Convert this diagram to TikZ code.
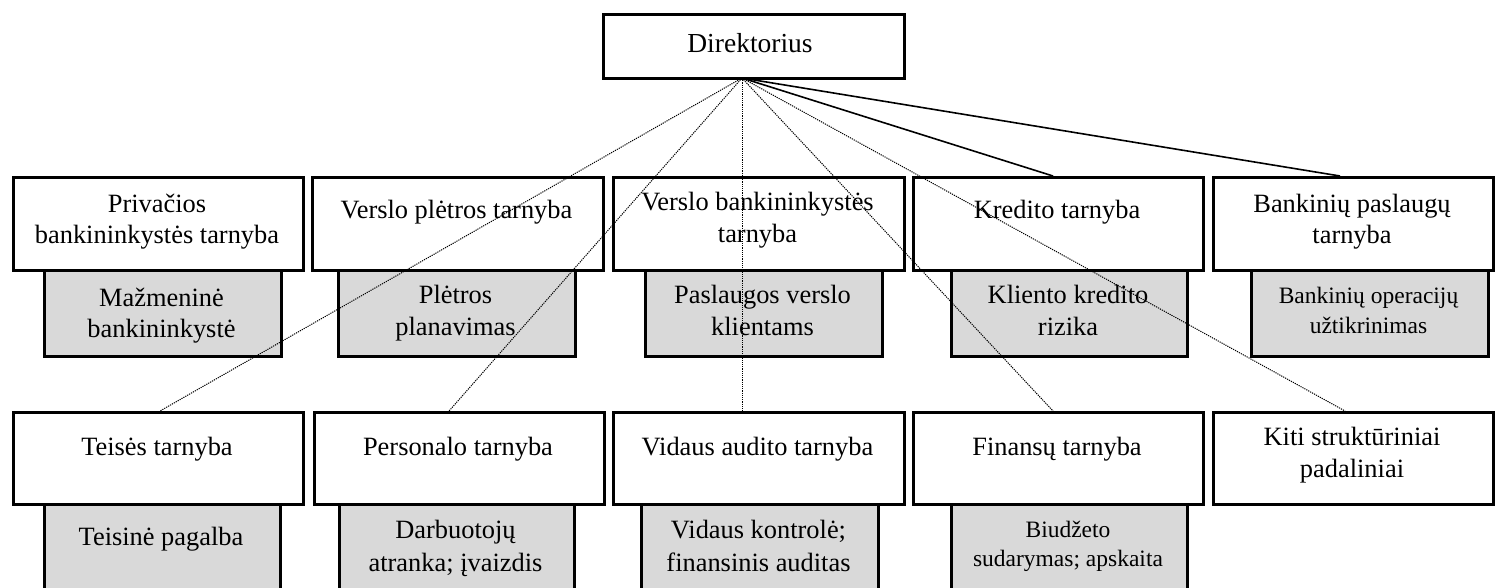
\documentclass[tikz,border=0pt]{standalone}
\usepackage{fontspec}
\setmainfont{Liberation Serif}
\begin{document}
\begin{tikzpicture}[x=1pt,y=-1pt,
  wbox/.style={draw=black,line width=2.5pt,fill=white,inner sep=0pt,anchor=north west},
  gbox/.style={draw=black,line width=2.5pt,fill=graybg,inner sep=0pt,anchor=north west},
  txt/.style={anchor=base,inner sep=0pt,font=\fontsize{26.4}{31}\selectfont},
  stxt/.style={anchor=base,inner sep=0pt,font=\fontsize{23.5}{28}\selectfont},
  dotline/.style={line width=1pt,dash pattern=on 1.2pt off 1pt},
  solidline/.style={line width=1.6pt}]
\definecolor{graybg}{HTML}{D9D9D9}
\clip (0,0) rectangle (1495,587);
\fill[white] (0,0) rectangle (1495,587);
% Director
\node[wbox,minimum width=301pt,minimum height=64pt] (dir) at (602,13) {};
\node[txt,font=\fontsize{27.5}{32}\selectfont] at (750,52) {Direktorius};
% top row
\node[wbox,minimum width=290pt,minimum height=93pt] (a1) at (12,176) {};
\node[wbox,minimum width=291pt,minimum height=93pt] (a2) at (311,176) {};
\node[wbox,minimum width=291pt,minimum height=93pt] (a3) at (612,176) {};
\node[wbox,minimum width=290pt,minimum height=93pt] (a4) at (912,176) {};
\node[wbox,minimum width=280pt,minimum height=93pt] (a5) at (1212,176) {};
\node[txt] at (157,212) {Privačios};
\node[txt] at (157,243) {bankininkystės tarnyba};
\node[txt] at (456.5,218) {Verslo plėtros tarnyba};
\node[txt] at (757.5,210) {Verslo bankininkystės};
\node[txt] at (757.5,242) {tarnyba};
\node[txt] at (1057,218) {Kredito tarnyba};
\node[txt] at (1352,212) {Bankinių paslaugų};
\node[txt] at (1352,243) {tarnyba};
% top gray
\node[gbox,minimum width=237pt,minimum height=86pt] (g1) at (43,269) {};
\node[gbox,minimum width=237pt,minimum height=86pt] (g2) at (337,269) {};
\node[gbox,minimum width=237pt,minimum height=86pt] (g3) at (644,269) {};
\node[gbox,minimum width=236pt,minimum height=86pt] (g4) at (950,269) {};
\node[gbox,minimum width=237pt,minimum height=86pt] (g5) at (1250,269) {};
\node[txt] at (161.5,306) {Mažmeninė};
\node[txt] at (161.5,337) {bankininkystė};
\node[txt] at (455.5,303) {Plėtros};
\node[txt] at (455.5,335) {planavimas};
\node[txt] at (762.5,303) {Paslaugos verslo};
\node[txt] at (762.5,335) {klientams};
\node[txt] at (1068,303) {Kliento kredito};
\node[txt] at (1068,335) {rizika};
\node[stxt] at (1368.5,303) {Bankinių operacijų};
\node[stxt] at (1368.5,333) {užtikrinimas};
% bottom row
\node[wbox,minimum width=290pt,minimum height=92pt] (c1) at (12,411) {};
\node[wbox,minimum width=290pt,minimum height=92pt] (c2) at (313,411) {};
\node[wbox,minimum width=291pt,minimum height=92pt] (c3) at (612,411) {};
\node[wbox,minimum width=290pt,minimum height=92pt] (c4) at (912,411) {};
\node[wbox,minimum width=280pt,minimum height=92pt] (c5) at (1212,411) {};
\node[txt] at (157,455) {Teisės tarnyba};
\node[txt] at (458,455) {Personalo tarnyba};
\node[txt] at (757.5,455) {Vidaus audito tarnyba};
\node[txt] at (1057,455) {Finansų tarnyba};
\node[txt] at (1352,445) {Kiti struktūriniai};
\node[txt] at (1352,477) {padaliniai};
% bottom gray
\node[gbox,minimum width=236pt,minimum height=100pt] (h1) at (43,503) {};
\node[gbox,minimum width=235pt,minimum height=100pt] (h2) at (338,503) {};
\node[gbox,minimum width=237pt,minimum height=100pt] (h3) at (640,503) {};
\node[gbox,minimum width=236pt,minimum height=100pt] (h4) at (950,503) {};
\node[txt] at (161,545) {Teisinė pagalba};
\node[txt] at (455.5,538) {Darbuotojų};
\node[txt] at (455.5,571) {atranka; įvaizdis};
\node[txt] at (758.5,538) {Vidaus kontrolė;};
\node[txt] at (758.5,571) {finansinis auditas};
\node[stxt] at (1068,537) {Biudžeto};
\node[stxt] at (1068,566) {sudarymas; apskaita};
% connectors
\coordinate (apex) at (742,78);
\coordinate (ea4) at (1053,176);
\coordinate (ea5) at (1340,176);
\coordinate (ec1) at (160,411);
\coordinate (ec2) at (449,411);
\coordinate (ec3) at (742,411);
\coordinate (ec4) at (1053,411);
\coordinate (ec5) at (1345,411);
\draw[solidline] (apex) -- (ea4);
\draw[solidline] (apex) -- (ea5);
\foreach \e in {ec1,ec2,ec3,ec4,ec5}{\draw[dotline] (apex) -- (\e);}
\end{tikzpicture}
\end{document}
